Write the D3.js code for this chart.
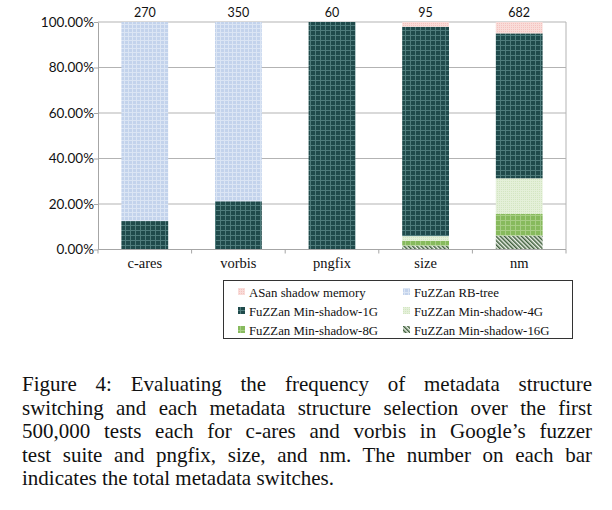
<!DOCTYPE html>
<html><head><meta charset="utf-8">
<script src="https://cdn.jsdelivr.net/npm/d3@7"></script>
<style>body{margin:0;background:#fff}svg{display:block}</style>
</head><body>
<script>
const categories = ["c-ares","vorbis","pngfix","size","nm"];
const totals = ["270","350","60","95","682"];
const seriesNames = ["ASan shadow memory","FuZZan RB-tree","FuZZan Min-shadow-1G","FuZZan Min-shadow-4G","FuZZan Min-shadow-8G","FuZZan Min-shadow-16G"];
// percentages per category, order: c-ares, vorbis, pngfix, size, nm
const asan   = [0, 0, 0, 2.1, 5.0];
const rbtree = [87.5, 78.8, 0, 0, 0];
const min1g  = [12.5, 21.2, 100, 92.0, 63.7];
const min4g  = [0, 0, 0, 2.0, 15.7];
const min8g  = [0, 0, 0, 2.2, 9.5];
const min16g = [0, 0, 0, 1.7, 6.1];
const yTicks = [0,20,40,60,80,100];
const caption = [
 "Figure 4: Evaluating the frequency of metadata structure",
 "switching and each metadata structure selection over the first",
 "500,000 tests each for c-ares and vorbis in Google\u2019s fuzzer",
 "test suite and pngfix, size, and nm. The number on each bar",
 "indicates the total metadata switches."
];

const W=612,H=510;
const svg=d3.select("body").append("svg").attr("width",W).attr("height",H);
const defs=svg.append("defs");
function gridPat(id,bg,line,step){
  const p=defs.append("pattern").attr("id",id).attr("patternUnits","userSpaceOnUse").attr("width",step).attr("height",step);
  p.append("rect").attr("width",step).attr("height",step).attr("fill",bg);
  p.append("rect").attr("x",0).attr("y",0).attr("width",step).attr("height",1).attr("fill",line);
  p.append("rect").attr("x",0).attr("y",0).attr("width",1).attr("height",step).attr("fill",line);
}
gridPat("pAsan","#f4c3bf","#f9dcd9",2);
gridPat("pRb","#c3d3ec","#dbe5f4",4);
gridPat("p1g","#1f4a4b","#4f7c7c",5);
gridPat("p4g","#d3e6c2","#e4f0d9",2);
gridPat("p8g","#87ba5d","#a8ce86",5);
{
  const p=defs.append("pattern").attr("id","p16g").attr("patternUnits","userSpaceOnUse").attr("width",3).attr("height",3).attr("patternTransform","rotate(-45)");
  p.append("rect").attr("width",3).attr("height",3).attr("fill","#eef3ea");
  p.append("rect").attr("width",1.5).attr("height",3).attr("fill","#3f5f3c");
}
const fills=["url(#pAsan)","url(#pRb)","url(#p1g)","url(#p4g)","url(#p8g)","url(#p16g)"];

const m={l:98,r:566,t:22,b:249.5};
const x=d3.scaleBand().domain(categories).range([m.l,m.r]).paddingInner(0.5).paddingOuter(0.25);
const y=d3.scaleLinear().domain([0,100]).range([m.b,m.t]);

// gridlines
svg.append("g").selectAll("line").data(yTicks.filter(d=>d>0)).join("line")
 .attr("x1",m.l).attr("x2",m.r).attr("y1",d=>y(d)).attr("y2",d=>y(d))
 .attr("stroke","#b3b3b3").attr("stroke-width",1);
svg.append("line").attr("x1",m.r).attr("x2",m.r).attr("y1",m.t).attr("y2",m.b).attr("stroke","#b3b3b3");

// stacked data: bottom to top order
const keys=["min16g","min8g","min4g","min1g","rbtree","asan"];
const keyFill={asan:fills[0],rbtree:fills[1],min1g:fills[2],min4g:fills[3],min8g:fills[4],min16g:fills[5]};
const rows=categories.map((c,i)=>({cat:c,asan:asan[i],rbtree:rbtree[i],min1g:min1g[i],min4g:min4g[i],min8g:min8g[i],min16g:min16g[i]}));
const stack=d3.stack().keys(keys)(rows);
svg.append("g").selectAll("g").data(stack).join("g").attr("fill",d=>keyFill[d.key])
 .selectAll("rect").data(d=>d).join("rect")
 .attr("x",d=>x(d.data.cat)).attr("width",x.bandwidth())
 .attr("y",d=>y(d[1])).attr("height",d=>Math.max(0,y(d[0])-y(d[1])));

// y axis
const yAxis=svg.append("g").attr("transform",`translate(${m.l},0)`)
 .call(d3.axisLeft(y).tickValues(yTicks).tickSize(4).tickSizeOuter(0).tickFormat(d=>d3.format(".2f")(d)+"%"));
yAxis.select(".domain").attr("stroke","#a6a6a6");
yAxis.selectAll(".tick line").attr("stroke","#a6a6a6");
yAxis.selectAll("text").attr("font-family","Lato").attr("font-size","13.5px").attr("fill","#111").attr("x",-4);

// x axis
svg.append("line").attr("x1",m.l).attr("x2",m.r).attr("y1",m.b).attr("y2",m.b).attr("stroke","#a6a6a6");
svg.append("g").selectAll("line").data(d3.range(0,categories.length+1)).join("line")
 .attr("x1",i=>m.l+i*(m.r-m.l)/categories.length).attr("x2",i=>m.l+i*(m.r-m.l)/categories.length)
 .attr("y1",m.b).attr("y2",m.b+4).attr("stroke","#a6a6a6");
svg.append("g").selectAll("text").data(categories).join("text")
 .attr("x",d=>x(d)+x.bandwidth()/2).attr("y",268).attr("text-anchor","middle")
 .attr("font-family","Liberation Serif").attr("font-size","14.5px").attr("fill","#111").text(d=>d);

// totals
svg.append("g").selectAll("text").data(categories).join("text")
 .attr("x",d=>x(d)+x.bandwidth()/2).attr("y",17).attr("text-anchor","middle")
 .attr("font-family","Lato").attr("font-size","12.5px").attr("fill","#111").text((d,i)=>totals[i]);

// legend
const lg=svg.append("g");
lg.append("rect").attr("x",223.5).attr("y",280.5).attr("width",349).attr("height",58).attr("fill","none").attr("stroke","#333").attr("stroke-width",1);
seriesNames.forEach((n,i)=>{
  const col=i%2,row=Math.floor(i/2);
  const lx=col? 403:238, ly=292+row*19;
  lg.append("rect").attr("x",lx).attr("y",ly-4).attr("width",7).attr("height",7).attr("fill",fills[i]);
  lg.append("text").attr("x",lx+11).attr("y",ly+4.5).attr("font-family","Liberation Serif").attr("font-size","12.8px").attr("fill","#111").text(n);
});

// caption (justified by word spacing)
const cap=svg.append("g");
caption.forEach((t,i)=>{
  const tx=cap.append("text").attr("x",22).attr("y",391+i*23.5).attr("font-family","Liberation Serif").attr("font-size","21px").attr("fill","#111").text(t);
  if(i<caption.length-1){
    const w=tx.node().getComputedTextLength();
    const gaps=t.split(" ").length-1;
    tx.attr("word-spacing",((570-w)/gaps).toFixed(2)+"px");
  }
});
</script>
</body></html>
